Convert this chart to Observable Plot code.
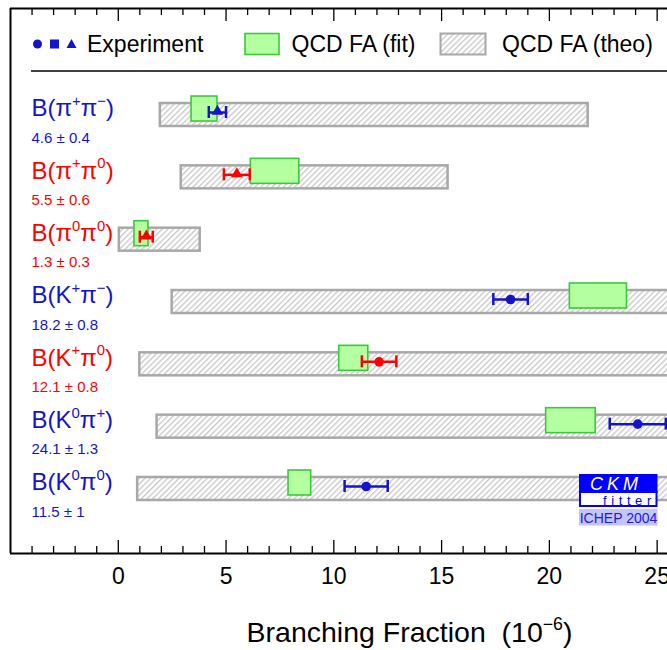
<!DOCTYPE html>
<html>
<head>
<meta charset="utf-8">
<script src="https://cdn.jsdelivr.net/npm/d3@7"></script>
<script src="https://cdn.jsdelivr.net/npm/@observablehq/plot@0.6"></script>
<style>
  html, body { margin: 0; padding: 0; background: #fff; }
  #chart { width: 667px; height: 650px; overflow: hidden; }
  svg text { white-space: pre; }
</style>
</head>
<body>
<div id="chart"></div>
<script>
// ---------------- data ----------------
const modes = ["B(π^{+}π^{−})", "B(π^{+}π^{0})", "B(π^{0}π^{0})", "B(K^{+}π^{−})", "B(K^{+}π^{0})", "B(K^{0}π^{+})", "B(K^{0}π^{0})"];
const expLabels = ["4.6 ± 0.4", "5.5 ± 0.6", "1.3 ± 0.3", "18.2 ± 0.8", "12.1 ± 0.8", "24.1 ± 1.3", "11.5 ± 1"];
const expValue = [4.6, 5.5, 1.3, 18.2, 12.1, 24.1, 11.5];
const expError = [0.4, 0.6, 0.3, 0.8, 0.8, 1.3, 1.0];
const expSymbol = ["triangle", "triangle", "triangle", "circle", "circle", "circle", "circle"];
const modeColor = ["#1414cc", "#ff0000", "#ff0000", "#1414cc", "#ff0000", "#1414cc", "#1414cc"];
const fitLow  = [3.4, 6.15, 0.75, 20.95, 10.25, 19.85, 7.9];
const fitHigh = [4.6, 8.4, 1.4, 23.6, 11.6, 22.15, 8.95];
const theoLow  = [1.95, 2.92, 0.05, 2.5, 1.0, 1.8, 0.9];
const theoHigh = [21.8, 15.3, 3.8, 30, 30, 30, 30];
const majorTicks = [0, 5, 10, 15, 20, 25];
const legendLabels = ["Experiment", "QCD FA (fit)", "QCD FA (theo)"];
const xTitle = "Branching Fraction\u00a0 (10^{−6})";

// ---------------- layout ----------------
const W = 667, H = 650;
const mT = 8, mB = 97, mL = 10, mR = 0;
const xDomain = [-5, 25.48];
const yDomain = [7.035, -1.709];
const yUnit = (H - mT - mB) / (yDomain[0] - yDomain[1]); // px per row unit
const minorTicks = d3.range(-4, 26).filter(d => d % 5 !== 0);

const rows = modes.map((m, i) => ({
  i, mode: m, label: expLabels[i], v: expValue[i], e: expError[i],
  sym: expSymbol[i], color: modeColor[i],
  fLo: fitLow[i], fHi: fitHigh[i], tLo: theoLow[i], tHi: theoHigh[i]
}));

const expY = d => d.i - 2.5 / yUnit;
const capH = 6 / yUnit;

const plot = Plot.plot({
  width: W, height: H,
  marginTop: mT, marginBottom: mB, marginLeft: mL, marginRight: mR,
  x: {domain: xDomain, axis: null},
  y: {domain: yDomain, axis: null},
  color: {type: "identity"},
  style: {fontFamily: "'Liberation Sans', Arial, Helvetica, sans-serif", background: "white", color: "black"},
  marks: [
    // theory ranges (hatched)
    Plot.rect(rows, {x1: "tLo", x2: "tHi", y1: d => d.i - 11.5 / yUnit, y2: d => d.i + 11.5 / yUnit,
      fill: "url(#hatch)", stroke: "#a8a8a8", strokeWidth: 2.5, clip: true}),
    // fit boxes
    Plot.rect(rows, {x1: "fLo", x2: "fHi", y1: d => d.i - 6 / yUnit - 12.5 / yUnit, y2: d => d.i - 6 / yUnit + 12.5 / yUnit,
      fill: "#b4ffa0", stroke: "#3cc83c", strokeWidth: 1.6, clip: true}),
    // error bars
    Plot.ruleY(rows, {x1: d => d.v - d.e, x2: d => d.v + d.e, y: expY, stroke: "color", strokeWidth: 2.5, clip: true}),
    Plot.ruleX(rows, {x: d => d.v - d.e, y1: d => expY(d) - capH, y2: d => expY(d) + capH, stroke: "color", strokeWidth: 2.5, clip: true}),
    Plot.ruleX(rows, {x: d => d.v + d.e, y1: d => expY(d) - capH, y2: d => expY(d) + capH, stroke: "color", strokeWidth: 2.5, clip: true}),
    Plot.dot(rows.filter(d => d.sym === "circle"), {x: "v", y: expY, symbol: "circle", r: 4.8, fill: "color", stroke: "none"}),
    Plot.dot(rows.filter(d => d.sym === "triangle"), {x: "v", y: d => expY(d) - 1 / yUnit, symbol: "triangle", r: 4.3, fill: "color", stroke: "none"}),
    // mode labels
    Plot.text(rows, {y: d => d.i - 6.5 / yUnit, text: "mode", frameAnchor: "left", dx: 21, textAnchor: "start",
      fill: "color", fontSize: 24, lineAnchor: "middle"}),
    Plot.text(rows, {y: d => d.i + 22.8 / yUnit, text: "label", frameAnchor: "left", dx: 21, textAnchor: "start",
      fill: "color", fontSize: 15, lineAnchor: "middle"}),
    // frame (left, top, bottom)
    Plot.ruleY([yDomain[0], yDomain[1]], {stroke: "black", strokeWidth: 2}),
    Plot.ruleX([xDomain[0]], {stroke: "black", strokeWidth: 2}),
    // ticks
    Plot.ruleX(majorTicks, {x: d => d, y1: yDomain[0], y2: yDomain[0] - 13 / yUnit, stroke: "black", strokeWidth: 1.3}),
    Plot.ruleX(minorTicks, {x: d => d, y1: yDomain[0], y2: yDomain[0] - 7 / yUnit, stroke: "black", strokeWidth: 1.3}),
    Plot.ruleX(majorTicks, {x: d => d, y1: yDomain[1], y2: yDomain[1] + 13 / yUnit, stroke: "black", strokeWidth: 1.3}),
    Plot.ruleX(minorTicks, {x: d => d, y1: yDomain[1], y2: yDomain[1] + 7 / yUnit, stroke: "black", strokeWidth: 1.3}),
    // tick labels
    Plot.text(majorTicks, {x: d => d, text: d => String(d), frameAnchor: "bottom", dy: 23.5, fontSize: 23, lineAnchor: "middle", fill: "black"}),
    // axis title
    Plot.text([xTitle], {text: d => d, frameAnchor: "bottom", dx: 70.5, dy: 79, fontSize: 28.5, lineAnchor: "middle", fill: "black"})
  ]
});

document.getElementById("chart").appendChild(plot);
const svg = d3.select(plot);

// hatch pattern
const defs = svg.insert("defs", ":first-child");
const hs = 4.0;
const pat = defs.append("pattern").attr("id", "hatch").attr("patternUnits", "userSpaceOnUse")
  .attr("width", hs).attr("height", hs).attr("patternTransform", "rotate(45)");
pat.append("rect").attr("width", hs).attr("height", hs).attr("fill", "white");
pat.append("line").attr("x1", 0.7).attr("y1", 0).attr("x2", 0.7).attr("y2", hs)
  .attr("stroke", "#c2c2c2").attr("stroke-width", 1.2);

// superscripts: "^{...}"
plot.querySelectorAll("text").forEach(t => {
  const s = t.textContent;
  if (!s.includes("^{")) return;
  const fs = parseFloat(getComputedStyle(t).fontSize) || 16;
  const rise = fs * 0.42;
  t.textContent = "";
  const parts = s.split(/(\^\{[^}]*\})/).filter(p => p.length);
  let raised = false;
  parts.forEach(p => {
    const ts = document.createElementNS("http://www.w3.org/2000/svg", "tspan");
    if (p.startsWith("^{")) {
      ts.textContent = p.slice(2, -1);
      ts.setAttribute("font-size", (fs * 0.62).toFixed(1));
      if (!raised) ts.setAttribute("dy", (-rise).toFixed(1));
      raised = true;
    } else {
      ts.textContent = p;
      if (raised) ts.setAttribute("dy", rise.toFixed(1));
      raised = false;
    }
    t.appendChild(ts);
  });
});

// legend (inside the frame, above the separator line)
const font = "'Liberation Sans', Arial, Helvetica, sans-serif";
const lg = svg.append("g").attr("font-family", font).attr("text-anchor", "start");
const ly = 44;
const blue = modeColor[0];
lg.append("circle").attr("cx", 37.5).attr("cy", ly).attr("r", 4.5).attr("fill", blue);
lg.append("rect").attr("x", 50).attr("y", ly - 4.5).attr("width", 9).attr("height", 9).attr("fill", blue);
lg.append("path").attr("d", `M${71.5},${ly - 5}L${76.5},${ly + 4}L${66.5},${ly + 4}Z`).attr("fill", blue);
lg.append("text").attr("x", 87).attr("y", ly).attr("dy", "0.35em").attr("font-size", 23).text(legendLabels[0]);
lg.append("rect").attr("x", 245).attr("y", 33.5).attr("width", 34).attr("height", 21)
  .attr("fill", "#b4ffa0").attr("stroke", "#3cc83c").attr("stroke-width", 1.6);
lg.append("text").attr("x", 291.5).attr("y", ly).attr("dy", "0.35em").attr("font-size", 23).text(legendLabels[1]);
lg.append("rect").attr("x", 440.5).attr("y", 33.5).attr("width", 45).attr("height", 21)
  .attr("fill", "url(#hatch)").attr("stroke", "#a8a8a8").attr("stroke-width", 2);
lg.append("text").attr("x", 502).attr("y", ly).attr("dy", "0.35em").attr("font-size", 23).text(legendLabels[2]);
lg.append("line").attr("x1", 31).attr("x2", 667).attr("y1", 71).attr("y2", 71).attr("stroke", "black").attr("stroke-width", 1.5);

// CKMfitter logo
const logo = svg.append("g").attr("font-family", font).attr("text-anchor", "start");
logo.append("rect").attr("x", 580).attr("y", 492).attr("width", 76.5).attr("height", 14)
  .attr("fill", "white").attr("stroke", "#0000ff").attr("stroke-width", 2);
logo.append("rect").attr("x", 579).attr("y", 474).attr("width", 78.5).attr("height", 19).attr("fill", "#0000ff");
logo.append("text").attr("x", 590).attr("y", 490).attr("fill", "white").attr("font-size", 18)
  .attr("font-style", "italic").attr("letter-spacing", 4).text("CKM");
logo.append("text").attr("x", 603).attr("y", 504.5).attr("fill", "#0000ff").attr("font-size", 13)
  .attr("letter-spacing", 4.6).text("fitter");
logo.append("rect").attr("x", 579).attr("y", 509).attr("width", 78.5).attr("height", 16.5).attr("fill", "#c4c4ff");
logo.append("text").attr("x", 618.5).attr("y", 522.5).attr("fill", "#1a1ae0").attr("font-size", 14)
  .attr("text-anchor", "middle").text("ICHEP 2004");
</script>
</body>
</html>
